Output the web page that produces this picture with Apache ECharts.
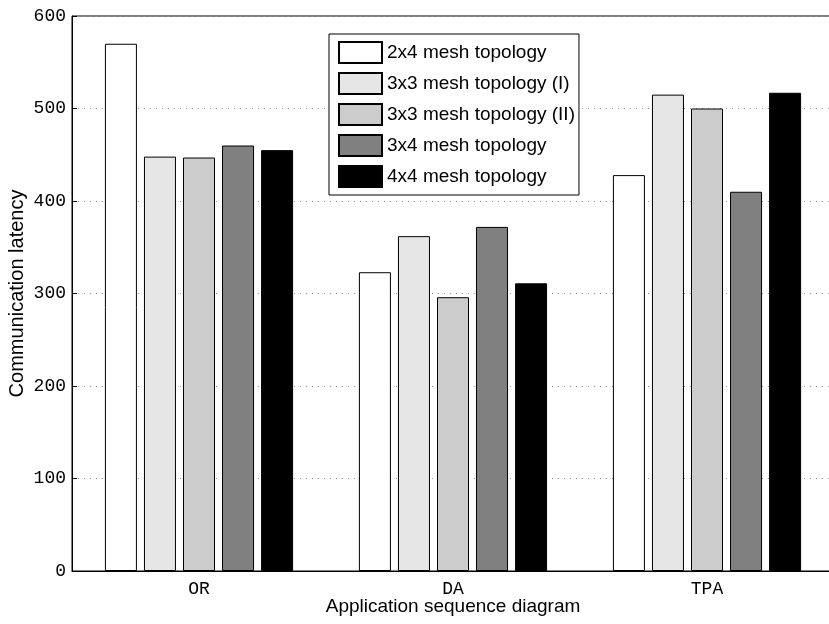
<!DOCTYPE html>
<html>
<head>
<meta charset="utf-8">
<script src="https://cdn.jsdelivr.net/npm/echarts@6/dist/echarts.min.js"></script>
<style>
  html, body { margin: 0; padding: 0; background: #fff; overflow: hidden; }
  #main { width: 829px; height: 624px; }
</style>
</head>
<body>
<div id="main"></div>
<script>
// categories and series values
var categories = ['OR', 'DA', 'TPA']
var seriesNames = ['2x4 mesh topology', '3x3 mesh topology (I)', '3x3 mesh topology (II)', '3x4 mesh topology', '4x4 mesh topology']
var mesh2x4 = [570, 323, 428]
var mesh3x3a = [448, 362, 515]
var mesh3x3b = [447, 296, 500]
var mesh3x4 = [460, 372, 410]
var mesh4x4 = [455, 311, 517]
var yTicks = [0, 100, 200, 300, 400, 500, 600]

var colors = ['#ffffff', '#e6e6e6', '#cccccc', '#808080', '#000000']
var values = [mesh2x4, mesh3x3a, mesh3x3b, mesh3x4, mesh4x4]

var chartDom = document.getElementById('main')
var myChart = echarts.init(chartDom)
var option

var series = seriesNames.map(function (name, i) {
  return {
    name: name,
    type: 'bar',
    data: values[i],
    barWidth: 32,
    barGap: '22%',
    itemStyle: {
      color: colors[i],
      borderColor: '#000',
      borderWidth: 1
    }
  }
})

option = {
  animation: false,
  backgroundColor: '#fff',
  grid: {
    left: 72,
    top: 16,
    right: -5,
    bottom: 53,
    containLabel: false,
    outerBoundsMode: 'none',
    show: true,
    borderColor: '#000',
    borderWidth: 1
  },
  legend: {
    orient: 'vertical',
    left: 329,
    top: 34,
    padding: [7, 4, 7, 9],
    icon: 'rect',
    itemWidth: 43,
    itemHeight: 21,
    itemGap: 8,
    backgroundColor: '#fff',
    borderColor: '#000',
    borderWidth: 1,
    textStyle: {
      fontFamily: 'Liberation Sans',
      fontSize: 19,
      color: '#000'
    },
    data: seriesNames
  },
  xAxis: {
    type: 'category',
    data: categories,
    name: 'Application sequence diagram',
    nameLocation: 'middle',
    nameGap: 26,
    nameMoveOverlap: false,
    nameTextStyle: {
      fontFamily: 'Liberation Sans',
      fontSize: 19,
      color: '#000'
    },
    axisLine: { lineStyle: { color: '#000', width: 1 } },
    axisTick: { show: false },
    axisLabel: {
      fontFamily: 'Liberation Mono',
      fontSize: 18,
      color: '#000',
      margin: 9
    }
  },
  yAxis: {
    type: 'value',
    min: yTicks[0],
    max: yTicks[yTicks.length - 1],
    interval: 100,
    name: 'Communication latency',
    nameLocation: 'middle',
    nameGap: 45,
    nameMoveOverlap: false,
    nameTextStyle: {
      fontFamily: 'Liberation Sans',
      fontSize: 20,
      color: '#000'
    },
    axisLine: { show: true, lineStyle: { color: '#000', width: 1 } },
    axisTick: { show: true, inside: true, length: 5, lineStyle: { color: '#000' } },
    axisLabel: {
      fontFamily: 'Liberation Mono',
      fontSize: 18,
      color: '#000',
      margin: 6
    },
    splitLine: {
      show: true,
      lineStyle: { color: '#999', type: [1, 5], width: 1 }
    }
  },
  series: series
}

option && myChart.setOption(option)
</script>
</body>
</html>
